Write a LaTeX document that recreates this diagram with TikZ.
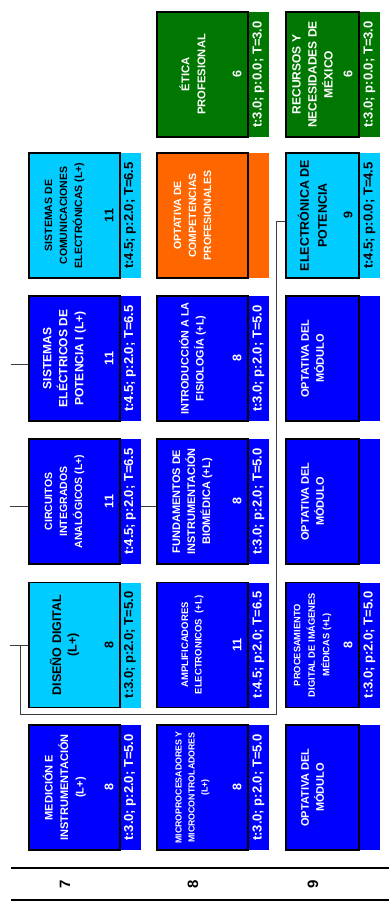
\documentclass[tikz,border=0pt]{standalone}
\usepackage{fontspec}
\setmainfont{Liberation Sans}
\usetikzlibrary{positioning}
\usetikzlibrary{calc}

\definecolor{azul}{RGB}{0,0,255}
\definecolor{celeste}{RGB}{0,204,255}
\definecolor{naranja}{RGB}{255,102,0}
\definecolor{verde}{RGB}{0,119,0}
\definecolor{linea}{RGB}{60,60,60}

\tikzset{
  curso/.style={draw=black, line width=1.6pt, rotate=90, minimum width=125pt, minimum height=91pt, inner sep=0pt},
  cursoc/.style={curso, minimum height=73pt},
  franja/.style={rotate=90, minimum width=125pt, minimum height=21pt, inner sep=0pt, font=\bfseries\fontsize{13}{13}\selectfont},
  titulo/.style={rotate=90, align=center, inner sep=0pt, font=\bfseries\fontsize{10.5}{15}\selectfont},
  creditos/.style={rotate=90, inner sep=0pt, font=\bfseries\fontsize{12.5}{12.5}\selectfont},
  semestre/.style={rotate=90, inner sep=0pt, font=\bfseries\fontsize{15}{15}\selectfont},
  enlace/.style={draw=linea, line width=0.9pt}
}

\begin{document}
\begin{tikzpicture}[x=1pt, y=-1pt]
\useasboundingbox (0,0) rectangle (389,911);

% semestre 7
\node[franja, fill=azul, text=white] (med-s) at (130,787.5) {t:3.0; p:2.0; T=5.0};
\node[curso, fill=azul] (med) at (74.5,787.5) {};
\node[titulo, text=white, font=\bfseries\fontsize{11}{15.5}\selectfont] (med-t) at (64.5,787.5) {MEDICIÓN E\\INSTRUMENTACIÓN\\(L+)};
\node[creditos, text=white] (med-c) at (109,787.5) {8};

\node[franja, fill=celeste, text=black] (dd-s) at (130,645) {t:3.0; p:2.0; T=5.0};
\node[curso, fill=celeste] (dd) at (74.5,645) {};
\node[titulo, text=black, font=\bfseries\fontsize{12.5}{15.5}\selectfont] (dd-t) at (64.5,645) {DISEÑO DIGITAL\\(L+)};
\node[creditos, text=black] (dd-c) at (109,645) {8};

\node[franja, fill=azul, text=white] (cia-s) at (130,501.5) {t:4.5; p:2.0; T=6.5};
\node[curso, fill=azul] (cia) at (74.5,501.5) {};
\node[titulo, text=white] (cia-t) at (64.5,501.5) {CIRCUITOS\\INTEGRADOS\\ANALÓGICOS (L+)};
\node[creditos, text=white] (cia-c) at (109,501.5) {11};

\node[franja, fill=azul, text=white] (sep-s) at (130,358.5) {t:4.5; p:2.0; T=6.5};
\node[curso, fill=azul] (sep) at (74.5,358.5) {};
\node[titulo, text=white, font=\bfseries\fontsize{12}{16}\selectfont] (sep-t) at (64.5,358.5) {SISTEMAS\\ELÉCTRICOS DE\\POTENCIA I (L+)};
\node[creditos, text=white] (sep-c) at (109,358.5) {11};

\node[franja, fill=celeste, text=black] (sce-s) at (130,215.5) {t:4.5; p:2.0; T=6.5};
\node[curso, fill=celeste] (sce) at (74.5,215.5) {};
\node[titulo, text=black] (sce-t) at (64.5,215.5) {SISTEMAS DE\\COMUNICACIONES\\ELECTRÓNICAS (L+)};
\node[creditos, text=black] (sce-c) at (109,215.5) {11};

% semestre 8
\node[franja, fill=azul, text=white] (mic-s) at (258.5,787.5) {t:3.0; p:2.0; T=5.0};
\node[curso, fill=azul] (mic) at (202.5,787.5) {};
\node[titulo, text=white, font=\bfseries\fontsize{8.8}{13}\selectfont] (mic-t) at (192.5,787.5) {MICROPROCESADORES Y\\MICROCONTROLADORES\\(L+)};
\node[creditos, text=white] (mic-c) at (237,787.5) {8};

\node[franja, fill=azul, text=white] (amp-s) at (258.5,645) {t:4.5; p:2.0; T=6.5};
\node[curso, fill=azul] (amp) at (202.5,645) {};
\node[titulo, text=white, font=\bfseries\fontsize{9.5}{13.5}\selectfont] (amp-t) at (192.5,645) {AMPLIFICADORES\\ELECTRONICOS~~(+L)};
\node[creditos, text=white] (amp-c) at (237,645) {11};

\node[franja, fill=azul, text=white] (fib-s) at (258.5,501.5) {t:3.0; p:2.0; T=5.0};
\node[curso, fill=azul] (fib) at (202.5,501.5) {};
\node[titulo, text=white, font=\bfseries\fontsize{11}{15}\selectfont] (fib-t) at (192.5,501.5) {FUNDAMENTOS DE\\INSTRUMENTACIÓN\\BIOMÉDICA (+L)};
\node[creditos, text=white] (fib-c) at (237,501.5) {8};

\node[franja, fill=azul, text=white] (ifi-s) at (258.5,358.5) {t:3.0; p:2.0; T=5.0};
\node[curso, fill=azul] (ifi) at (202.5,358.5) {};
\node[titulo, text=white, font=\bfseries\fontsize{10.8}{15}\selectfont] (ifi-t) at (192.5,358.5) {INTRODUCCIÓN A LA\\FISIOLOGÍA (+L)};
\node[creditos, text=white] (ifi-c) at (237,358.5) {8};

\node[franja, fill=naranja] (ocp-s) at (258.5,215.5) {};
\node[curso, fill=naranja] (ocp) at (202.5,215.5) {};
\node[titulo, text=white] (ocp-t) at (192.5,215.5) {OPTATIVA DE\\COMPETENCIAS\\PROFESIONALES};

\node[franja, fill=verde, text=white] (eti-s) at (258.5,74.5) {t:3.0; p:0.0; T=3.0};
\node[curso, fill=verde] (eti) at (202.5,74.5) {};
\node[titulo, text=white, font=\bfseries\fontsize{11.2}{16}\selectfont] (eti-t) at (192.5,74.5) {ÉTICA\\PROFESIONAL};
\node[creditos, text=white] (eti-c) at (237,74.5) {6};

% semestre 9
\node[franja, fill=azul] (om1-s) at (369.5,787.5) {};
\node[cursoc, fill=azul] (om1) at (322.5,787.5) {};
\node[titulo, text=white, font=\bfseries\fontsize{11}{15}\selectfont] (om1-t) at (312.5,787.5) {OPTATIVA DEL\\MÓDULO};

\node[franja, fill=azul, text=white] (pdi-s) at (369.5,645) {t:3.0; p:2.0; T=5.0};
\node[cursoc, fill=azul] (pdi) at (322.5,645) {};
\node[titulo, text=white, font=\bfseries\fontsize{9.3}{14.5}\selectfont] (pdi-t) at (312.5,645) {PROCESAMIENTO\\DIGITAL DE IMÁGENES\\MÉDICAS (+L)};
\node[creditos, text=white] (pdi-c) at (348,645) {8};

\node[franja, fill=azul] (om2-s) at (369.5,501.5) {};
\node[cursoc, fill=azul] (om2) at (322.5,501.5) {};
\node[titulo, text=white, font=\bfseries\fontsize{11}{15}\selectfont] (om2-t) at (312.5,501.5) {OPTATIVA DEL\\MÓDULO};

\node[franja, fill=azul] (om3-s) at (369.5,358.5) {};
\node[cursoc, fill=azul] (om3) at (322.5,358.5) {};
\node[titulo, text=white, font=\bfseries\fontsize{11}{15}\selectfont] (om3-t) at (312.5,358.5) {OPTATIVA DEL\\MÓDULO};

\node[franja, fill=celeste, text=black] (epo-s) at (369.5,215.5) {t:4.5; p:0.0; T=4.5};
\node[cursoc, fill=celeste] (epo) at (322.5,215.5) {};
\node[titulo, text=black, font=\bfseries\fontsize{12.5}{18}\selectfont] (epo-t) at (312.5,215.5) {ELECTRÓNICA DE\\POTENCIA};
\node[creditos, text=black] (epo-c) at (348,215.5) {9};

\node[franja, fill=verde, text=white] (rnm-s) at (369.5,74.5) {t:3.0; p:0.0; T=3.0};
\node[cursoc, fill=verde] (rnm) at (322.5,74.5) {};
\node[titulo, text=white, font=\bfseries\fontsize{12}{16}\selectfont] (rnm-t) at (312.5,74.5) {RECURSOS Y\\NECESIDADES DE\\MÉXICO};
\node[creditos, text=white] (rnm-c) at (348,74.5) {6};

% seriacion
\coordinate (in-dd) at (10,645);
\coordinate (in-cia) at (10,506);
\coordinate (in-sep) at (11,364);
\draw[enlace] (in-dd) -- (dd.north);
\draw[enlace] (in-cia) -- (cia.north |- in-cia);
\draw[enlace] (in-sep) -- (sep.north |- in-sep);
\draw[enlace] ($(cia-s.south)+(0,4.5)$) -- ($(fib.north)+(0,4.5)$);
\draw[enlace] (dd.north) -| (20,714) -| ($(epo.north)+(-9,5.5)$) -- ($(epo.north)+(0,5.5)$);

% semestres
\draw[line width=1.8pt] (11,868) -- (389,868);
\draw[line width=1.8pt] (11,900) -- (389,900);
\node[semestre] (s7) at (65,884) {7};
\node[semestre] (s8) at (193,884) {8};
\node[semestre] (s9) at (313,884) {9};

\end{tikzpicture}
\end{document}
